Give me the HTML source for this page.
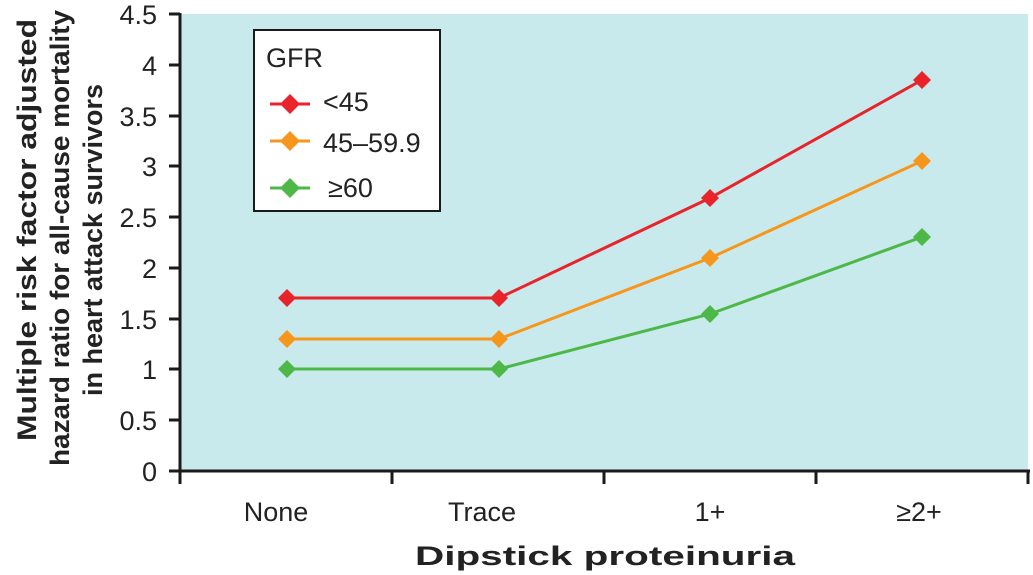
<!DOCTYPE html>
<html><head><style>
body{margin:0;background:#fff;}
svg{display:block;font-family:"Liberation Sans",sans-serif;}
</style></head><body>
<svg width="1033" height="575" viewBox="0 0 1033 575">
<rect x="180" y="14" width="848" height="457" fill="#c9eaec"/>
<g stroke="#1a1a1a" stroke-width="3" fill="none">
<line x1="180" y1="13" x2="180" y2="472"/>
<line x1="178" y1="471" x2="1030" y2="471"/>
<line x1="180" y1="471" x2="180" y2="484"/>
<line x1="392" y1="471" x2="392" y2="484"/>
<line x1="604" y1="471" x2="604" y2="484"/>
<line x1="816" y1="471" x2="816" y2="484"/>
<line x1="1028" y1="471" x2="1028" y2="484"/>
<line x1="169" y1="471" x2="180" y2="471"/><line x1="169" y1="420" x2="180" y2="420"/>
<line x1="169" y1="369" x2="180" y2="369"/><line x1="169" y1="319" x2="180" y2="319"/>
<line x1="169" y1="268" x2="180" y2="268"/><line x1="169" y1="217" x2="180" y2="217"/>
<line x1="169" y1="166" x2="180" y2="166"/><line x1="169" y1="116" x2="180" y2="116"/>
<line x1="169" y1="65" x2="180" y2="65"/><line x1="169" y1="14" x2="180" y2="14"/>
</g>
<g font-size="27" fill="#222" text-anchor="end">
<text x="157" y="481">0</text><text x="157" y="430">0.5</text><text x="157" y="379">1</text>
<text x="157" y="329">1.5</text><text x="157" y="278">2</text><text x="157" y="227">2.5</text>
<text x="157" y="176">3</text><text x="157" y="126">3.5</text><text x="157" y="75">4</text>
<text x="157" y="24">4.5</text>
</g>
<g font-size="27" fill="#222" text-anchor="middle">
<text x="276" y="521">None</text><text x="482" y="521">Trace</text>
<text x="710" y="521">1+</text><text x="919" y="521">≥2+</text>
</g>
<text x="415" y="565" font-size="27" font-weight="bold" fill="#222" textLength="380" lengthAdjust="spacingAndGlyphs">Dipstick proteinuria</text>
<g font-size="27" font-weight="bold" fill="#222">
<text transform="translate(36,441) rotate(-90)" textLength="422" lengthAdjust="spacingAndGlyphs">Multiple risk factor adjusted</text>
<text transform="translate(69,466) rotate(-90)" textLength="456" lengthAdjust="spacingAndGlyphs">hazard ratio for all-cause  mortality</text>
<text transform="translate(102,396) rotate(-90)" textLength="312" lengthAdjust="spacingAndGlyphs">in heart attack survivors</text>
</g>
<polyline points="287,298 499,298 710,198 922,80" fill="none" stroke="#e8232a" stroke-width="3"/>
<polyline points="287,339 499,339 710,258 922,161" fill="none" stroke="#f7961d" stroke-width="3"/>
<polyline points="287,369 499,369 710,314 922,237" fill="none" stroke="#4db848" stroke-width="3"/>
<path d="M287 289l9 9-9 9-9-9z M499 289l9 9-9 9-9-9z M710 189l9 9-9 9-9-9z M922 71l9 9-9 9-9-9z" fill="#e8232a"/>
<path d="M287 330l9 9-9 9-9-9z M499 330l9 9-9 9-9-9z M710 249l9 9-9 9-9-9z M922 152l9 9-9 9-9-9z" fill="#f7961d"/>
<path d="M287 360l9 9-9 9-9-9z M499 360l9 9-9 9-9-9z M710 305l9 9-9 9-9-9z M922 228l9 9-9 9-9-9z" fill="#4db848"/>
<rect x="254" y="30" width="186" height="181" fill="#fff" stroke="#1a1a1a" stroke-width="2"/>
<g font-size="27" fill="#222">
<text x="266" y="67">GFR</text>
<text x="323" y="111">&lt;45</text>
<text x="323" y="152">45–59.9</text>
<text x="328" y="197">≥60</text>
</g>
<line x1="270" y1="104" x2="310" y2="104" stroke="#e8232a" stroke-width="3"/>
<path d="M290 94l10 10-10 10-10-10z" fill="#e8232a"/>
<line x1="270" y1="141" x2="310" y2="141" stroke="#f7961d" stroke-width="3"/>
<path d="M290 131l10 10-10 10-10-10z" fill="#f7961d"/>
<line x1="270" y1="188" x2="310" y2="188" stroke="#4db848" stroke-width="3"/>
<path d="M290 178l10 10-10 10-10-10z" fill="#4db848"/>
</svg>
</body></html>
